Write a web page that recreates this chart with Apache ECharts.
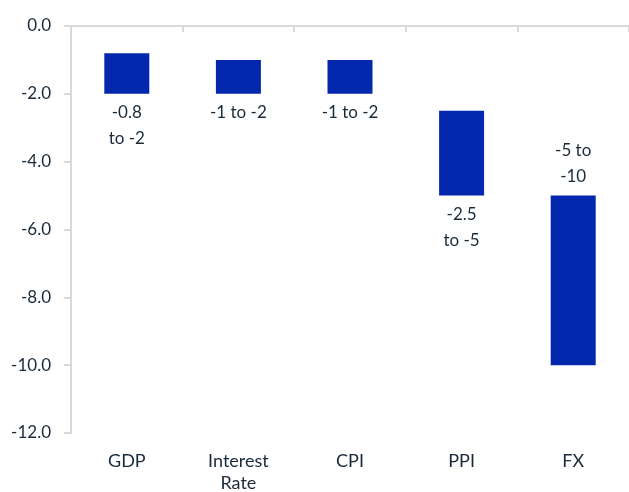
<!DOCTYPE html>
<html><head><meta charset="utf-8">
<script src="https://cdn.jsdelivr.net/npm/echarts@6/dist/echarts.min.js"></script>
<style>html,body{margin:0;padding:0;background:#fff}#c{width:629px;height:492px}</style>
</head><body><div id="c"></div>
<script>
const categories = ['GDP', 'Interest\nRate', 'CPI', 'PPI', 'FX'];
const highs = [-0.8, -1, -1, -2.5, -5];
const lows = [-2, -2, -2, -5, -10];
const rangeLabels = ['-0.8\nto -2', '-1 to -2', '-1 to -2', '-2.5\nto -5', '-5 to\n-10'];
const labelAbove = [false, false, false, false, true];
const yTicks = [0, -2, -4, -6, -8, -10, -12];

const textColor = '#1a2a3a';
const axisColor = '#d9d9d9';
const barColor = '#0328ae';
const font = 'Lato';

const chart = echarts.init(document.getElementById('c'), null, {renderer: 'canvas'});
chart.setOption({
  animation: false,
  grid: {left: 71, right: 0, top: 26, bottom: 59, outerBoundsMode: 'none', containLabel: false},
  xAxis: [
    {type: 'category', data: categories, position: 'bottom',
     axisLine: {show: false}, axisTick: {show: false},
     axisLabel: {color: textColor, fontSize: 18, fontFamily: font, margin: 17, lineHeight: 22}},
    {type: 'category', data: categories, position: 'top',
     axisLine: {show: true, lineStyle: {color: axisColor, width: 2}},
     axisTick: {show: true, inside: true, length: 6, lineStyle: {color: axisColor, width: 2}},
     axisLabel: {show: false}}
  ],
  yAxis: {
    type: 'value', min: yTicks[yTicks.length - 1], max: yTicks[0], interval: 2,
    axisLine: {show: true, lineStyle: {color: axisColor, width: 2}},
    axisTick: {show: true, length: 7, lineStyle: {color: axisColor, width: 2}},
    splitLine: {show: false},
    axisLabel: {color: textColor, fontSize: 17, fontFamily: font, margin: 20,
      formatter: v => v.toFixed(1)}
  },
  series: [
    {type: 'bar', stack: 'r', barWidth: 45, silent: true,
     itemStyle: {color: 'transparent'},
     data: highs},
    {type: 'bar', stack: 'r', barWidth: 45,
     itemStyle: {color: barColor},
     data: lows.map((l, i) => ({
       value: +(l - highs[i]).toFixed(2),
       label: {show: true, position: labelAbove[i] ? 'top' : 'bottom', distance: 6,
         formatter: rangeLabels[i], color: textColor, fontSize: 17, fontFamily: font,
         lineHeight: 26, align: 'center'}
     }))}
  ]
});
</script></body></html>
